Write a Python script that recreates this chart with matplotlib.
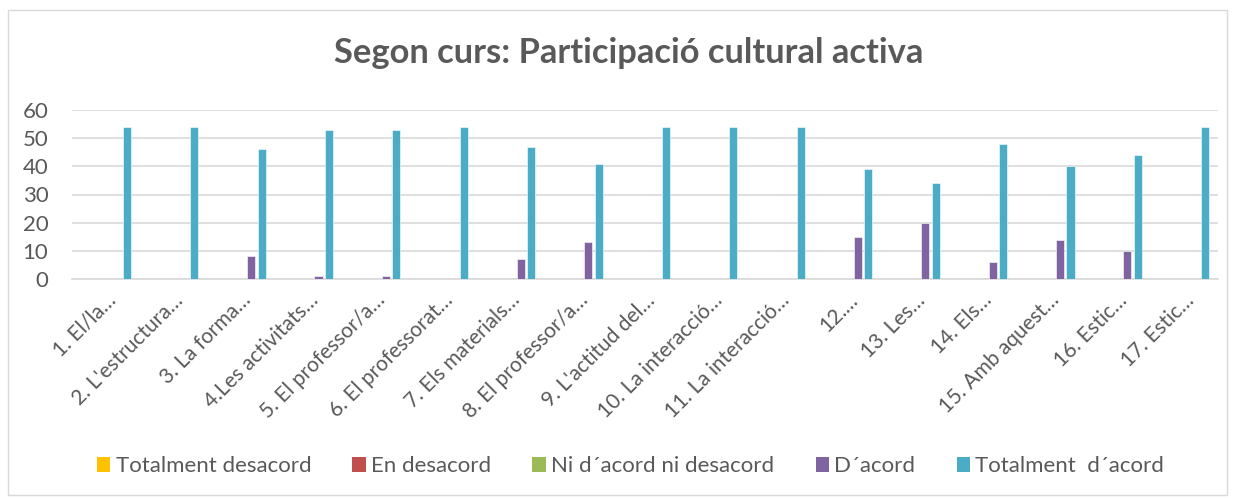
import matplotlib
matplotlib.use("Agg")
import matplotlib.pyplot as plt
import numpy as np
from matplotlib.patches import Rectangle, Patch

categories = ["1. El/la…", "2. L'estructura…", "3. La forma…", "4.Les activitats…",
              "5. El professor/a…", "6. El professorat…", "7. Els materials…",
              "8. El professor/a…", "9. L'actitud del…", "10. La interacció…",
              "11. La interacció…", "12.…", "13. Les…", "14. Els…",
              "15. Amb aquest…", "16. Estic…", "17. Estic…"]
series_names = ["Totalment desacord", "En desacord", "Ni d´acord ni desacord",
                "D´acord", "Totalment  d´acord"]
totalment_desacord = [0]*17
en_desacord = [0]*17
ni_acord = [0]*17
d_acord = [0, 0, 8, 1, 1, 0, 7, 13, 0, 0, 0, 15, 20, 6, 14, 10, 0]
totalment_acord = [54, 54, 46, 53, 53, 54, 47, 41, 54, 54, 54, 39, 34, 48, 40, 44, 54]
yticks = [0, 10, 20, 30, 40, 50, 60]

colors = ["#FFC000", "#C0504D", "#9BBB59", "#8064A2", "#4BACC6"]
series = [totalment_desacord, en_desacord, ni_acord, d_acord, totalment_acord]

plt.rcParams['font.family'] = ['Lato', 'DejaVu Sans']
txt = "#595959"

fig = plt.figure(figsize=(12.35, 4.99), dpi=100)
fig.patches.append(Rectangle((8/1235, 4/499), 1219/1235, 485/499, transform=fig.transFigure,
                             fill=False, edgecolor="#d9d9d9", linewidth=1))
ax = fig.add_axes([72/1235, 1-279/499, (1218-72)/1235, (279-110)/499])

x = np.arange(len(categories))
slot = 0.156
bw = 0.12
for i, (vals, c) in enumerate(zip(series, colors)):
    ax.bar(x + (i-2)*slot, vals, width=bw, color=c, edgecolor="white", linewidth=0.4, zorder=3)

ax.set_xlim(-0.5, len(categories)-0.5)
ax.set_ylim(0, 60)
ax.set_yticks(yticks)
ax.yaxis.grid(True, color="#d9d9d9", linewidth=1.2, zorder=0)
for s in ["top", "right", "left"]:
    ax.spines[s].set_visible(False)
ax.spines["bottom"].set_color("#d9d9d9")
ax.spines["bottom"].set_linewidth(1.2)
ax.tick_params(axis="both", length=0, labelsize=16, colors=txt)
ax.tick_params(axis="y", pad=17)
ax.set_xticks(x)
ax.set_xticklabels(categories, rotation=45, ha="right", rotation_mode="anchor", fontsize=15, color=txt)
ax.tick_params(axis="x", pad=8)

fig.text(628.5/1235, 1-63/499, "Segon curs: Participació cultural activa", ha="center", va="baseline",
         fontsize=24.8, fontweight="bold", color=txt)

handles = [Patch(facecolor=c, label=n) for c, n in zip(colors, series_names)]
fig.legend(handles=handles, loc="center", bbox_to_anchor=(630.5/1235, 1-466/499), ncol=5, frameon=False,
           fontsize=16, labelcolor=txt, handlelength=0.6, handleheight=0.65, handletextpad=0.25,
           columnspacing=1.85)

fig.savefig("out.png", dpi=100)
